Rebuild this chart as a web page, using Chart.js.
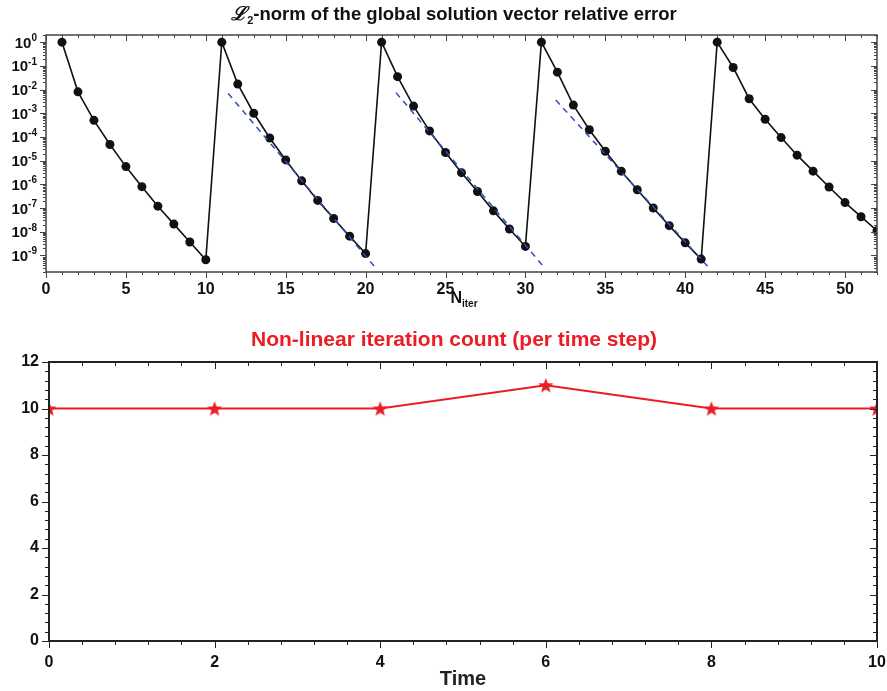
<!DOCTYPE html>
<html>
<head>
<meta charset="utf-8">
<script src="https://cdn.jsdelivr.net/npm/chart.js@4.4.1/dist/chart.umd.min.js"></script>
<style>
html, body { margin: 0; padding: 0; background: #fff; }
#topBox { position: absolute; left: 0; top: 0; width: 887px; height: 310px; }
#botBox { position: absolute; left: 0; top: 310px; width: 887px; height: 381px; }
</style>
</head>
<body>
<div id="topBox"><canvas id="errChart"></canvas></div>
<div id="botBox"><canvas id="iterChart"></canvas></div>
<script>
// ---- top panel data (residual per non-linear iteration)
var nIter = [1, 2, 3, 4, 5, 6, 7, 8, 9, 10,
  11, 12, 13, 14, 15, 16, 17, 18, 19, 20,
  21, 22, 23, 24, 25, 26, 27, 28, 29, 30,
  31, 32, 33, 34, 35, 36, 37, 38, 39, 40, 41,
  42, 43, 44, 45, 46, 47, 48, 49, 50, 51, 52];
var relErr = [1, 8e-3, 5e-4, 4.8e-5, 5.6e-6, 8e-7, 1.2e-7, 2.1e-8, 3.7e-9, 6.6e-10,
  1, 1.7e-2, 1e-3, 9e-5, 1.07e-5, 1.4e-6, 2.1e-7, 3.6e-8, 6.5e-9, 1.2e-9,
  1, 3.5e-2, 2e-3, 1.8e-4, 2.2e-5, 3.1e-6, 5e-7, 7.6e-8, 1.3e-8, 2.4e-9,
  1, 5.4e-2, 2.2e-3, 2e-4, 2.5e-5, 3.6e-6, 5.9e-7, 1e-7, 1.8e-8, 3.4e-9, 7e-10,
  1, 8.5e-2, 4.1e-3, 5.6e-4, 9.4e-5, 1.7e-5, 3.6e-6, 7.7e-7, 1.7e-7, 4.3e-8, 1.1e-8];

// dashed convergence-rate guides
var fit1X = [11.4, 20.7], fit1Y = [6.8e-3, 2.6e-10];
var fit2X = [21.9, 31.2], fit2Y = [7.4e-3, 3.0e-10];
var fit3X = [31.9, 41.4], fit3Y = [3.6e-3, 3.5e-10];

var iterTicks = [0, 5, 10, 15, 20, 25, 30, 35, 40, 45, 50];
var errTicks = [1e-9, 1e-8, 1e-7, 1e-6, 1e-5, 1e-4, 1e-3, 1e-2, 1e-1, 1];

// ---- bottom panel data
var timeVals = [0, 2, 4, 6, 8, 10];
var nlCount = [10, 10, 10, 11, 10, 10];
var timeTicks = [0, 2, 4, 6, 8, 10];
var countTicks = [0, 2, 4, 6, 8, 10, 12];

var FONT = "'Liberation Sans', Arial, sans-serif";
var RED = '#ec1c24';

function pts(xs, ys) {
  return xs.map(function (v, i) { return { x: v, y: ys[i] }; });
}
function steps(from, to, step) {
  var out = [];
  for (var v = from; v <= to + 1e-9; v += step) out.push(+v.toFixed(4));
  return out;
}
var logMinor = [];
for (var d = -10; d <= 0; d++) {
  for (var m = 2; m <= 9; m++) {
    var v = m * Math.pow(10, d);
    if (v >= 1.999e-10 && v <= 2.0001) logMinor.push(v);
  }
}

// frame + tick marks, placed with the chart's scales
var frameTicks = {
  id: 'frameTicks',
  afterDatasetsDraw: function (chart, args, o) {
    var ctx = chart.ctx, a = chart.chartArea, x = chart.scales.x, y = chart.scales.y;
    ctx.save();
    ctx.strokeStyle = o.color;
    ctx.lineWidth = 1;
    function seg(x1, y1, x2, y2) { ctx.beginPath(); ctx.moveTo(x1, y1); ctx.lineTo(x2, y2); ctx.stroke(); }
    function xt(list, len) {
      list.forEach(function (v) {
        var p = Math.round(x.getPixelForValue(v)) + 0.5;
        if (p < a.left - 1 || p > a.right + 1) return;
        seg(p, a.bottom, p, a.bottom + len);
        seg(p, a.top, p, a.top + len);
      });
    }
    function yt(list, len) {
      list.forEach(function (v) {
        var p = Math.round(y.getPixelForValue(v)) + 0.5;
        if (p < a.top - 1 || p > a.bottom + 1) return;
        seg(a.left, p, a.left - len, p);
        seg(a.right, p, a.right - len, p);
      });
    }
    xt(o.xMinor, o.minor); xt(o.xMajor, o.major);
    yt(o.yMinor, o.minor); yt(o.yMajor, o.major);
    ctx.lineWidth = o.width;
    ctx.strokeRect(a.left, a.top, a.right - a.left, a.bottom - a.top);
    ctx.restore();
  }
};

// top panel texts that need sub/superscripts
var topTexts = {
  id: 'topTexts',
  afterDraw: function (chart) {
    var ctx = chart.ctx, y = chart.scales.y;
    ctx.save();
    ctx.fillStyle = '#111';
    ctx.textBaseline = 'alphabetic';
    errTicks.forEach(function (v) {
      var py = y.getPixelForValue(v);
      var ex = String(Math.round(Math.log10(v)));
      ctx.font = 'bold 10px ' + FONT;
      var we = ctx.measureText(ex).width;
      ctx.font = 'bold 15px ' + FONT;
      var wb = ctx.measureText('10').width;
      var right = 37;
      ctx.fillText('10', right - we - wb, py + 5.5);
      ctx.font = 'bold 10px ' + FONT;
      ctx.fillText(ex, right - we, py - 1);
    });
    // title
    var cx = 454;
    ctx.font = 'italic bold 19px ' + FONT;
    var w1 = ctx.measureText('\u2112').width;
    ctx.font = 'bold 11px ' + FONT;
    var w2 = ctx.measureText('2').width;
    ctx.font = 'bold 18.5px ' + FONT;
    var rest = '-norm of the global solution vector relative error';
    var w3 = ctx.measureText(rest).width;
    var sx = cx - (w1 + w2 + w3) / 2;
    ctx.font = 'italic bold 19px ' + FONT;
    ctx.fillText('\u2112', sx, 20);
    ctx.font = 'bold 11px ' + FONT;
    ctx.fillText('2', sx + w1, 24);
    ctx.font = 'bold 18.5px ' + FONT;
    ctx.fillText(rest, sx + w1 + w2, 20);
    // x-axis title N_iter
    ctx.font = 'bold 16px ' + FONT;
    var wn = ctx.measureText('N').width;
    ctx.font = 'bold 10px ' + FONT;
    var wi = ctx.measureText('iter').width;
    var nx = 464 - (wn + wi) / 2;
    ctx.font = 'bold 16px ' + FONT;
    ctx.fillText('N', nx, 303);
    ctx.font = 'bold 10px ' + FONT;
    ctx.fillText('iter', nx + wn, 307);
    ctx.restore();
  }
};

// red heading of the bottom panel
var botTitle = {
  id: 'botTitle',
  afterDraw: function (chart, args, o) {
    var ctx = chart.ctx;
    ctx.save();
    ctx.fillStyle = RED;
    ctx.font = 'bold 21px ' + FONT;
    ctx.textAlign = 'center';
    ctx.textBaseline = 'middle';
    ctx.fillText(o.text, 454, 30);
    ctx.restore();
  }
};

var guide = {
  borderColor: '#2d4fb8', borderWidth: 1.5, borderDash: [6, 5],
  pointRadius: 0, fill: false, showLine: true
};

var errChart = new Chart(document.getElementById('errChart'), {
  type: 'scatter',
  data: {
    datasets: [
      Object.assign({ data: pts(fit1X, fit1Y) }, guide),
      Object.assign({ data: pts(fit2X, fit2Y) }, guide),
      Object.assign({ data: pts(fit3X, fit3Y) }, guide),
      {
        data: pts(nIter, relErr),
        showLine: true,
        borderColor: '#111', borderWidth: 1.6,
        pointRadius: 4.5, pointBackgroundColor: '#111', pointBorderColor: '#111',
        pointBorderWidth: 0
      }
    ]
  },
  options: {
    responsive: true, maintainAspectRatio: false, animation: false,
    devicePixelRatio: 1,
    layout: { padding: { top: 35, right: 10, left: 0, bottom: 0 } },
    plugins: {
      legend: { display: false }, title: { display: false }, tooltip: { enabled: false },
      frameTicks: {
        color: '#444', width: 1.5, major: 6, minor: 3,
        xMajor: iterTicks, xMinor: steps(0, 52, 1),
        yMajor: errTicks, yMinor: logMinor
      }
    },
    scales: {
      x: {
        type: 'linear', min: 0, max: 52,
        afterBuildTicks: function (s) { s.ticks = iterTicks.map(function (v) { return { value: v }; }); },
        afterFit: function (s) { s.height = 38; s.paddingLeft = 0; s.paddingRight = 0; },
        grid: { display: false }, border: { display: false },
        ticks: { padding: 0, color: '#111', font: { family: FONT, size: 16, weight: 'bold' }, maxRotation: 0 }
      },
      y: {
        type: 'logarithmic', min: 2e-10, max: 2,
        afterBuildTicks: function (s) { s.ticks = errTicks.map(function (v) { return { value: v }; }); },
        afterFit: function (s) { s.width = 46; },
        grid: { display: false }, border: { display: false },
        ticks: { display: false }
      }
    }
  },
  plugins: [frameTicks, topTexts]
});

// filled five-point star used as marker
function makeStar(size, color) {
  var c = document.createElement('canvas');
  c.width = size; c.height = size;
  var g = c.getContext('2d');
  var r = size / 2, ri = r * 0.42;
  g.fillStyle = color;
  g.beginPath();
  for (var i = 0; i < 10; i++) {
    var ang = -Math.PI / 2 + i * Math.PI / 5;
    var rr = i % 2 === 0 ? r : ri;
    g.lineTo(r + rr * Math.cos(ang), r + rr * Math.sin(ang) + 0.8);
  }
  g.closePath();
  g.fill();
  return c;
}
var starImg = makeStar(16, RED);

var iterChart = new Chart(document.getElementById('iterChart'), {
  type: 'line',
  data: {
    datasets: [{
      data: pts(timeVals, nlCount),
      borderColor: RED, borderWidth: 1.8,
      pointStyle: starImg, pointRadius: 8,
      tension: 0
    }]
  },
  options: {
    responsive: true, maintainAspectRatio: false, animation: false,
    devicePixelRatio: 1,
    layout: { padding: { top: 52, right: 10, left: 0, bottom: 0 } },
    plugins: {
      legend: { display: false }, tooltip: { enabled: false }, title: { display: false },
      botTitle: { text: 'Non-linear iteration count (per time step)' },
      frameTicks: {
        color: '#222', width: 2, major: 7, minor: 4,
        xMajor: timeTicks, xMinor: steps(0, 10, 0.4),
        yMajor: countTicks, yMinor: steps(0, 12, 0.4)
      }
    },
    scales: {
      x: {
        type: 'linear', min: 0, max: 10,
        afterBuildTicks: function (s) { s.ticks = timeTicks.map(function (v) { return { value: v }; }); },
        afterFit: function (s) { s.height = 50; s.paddingLeft = 0; s.paddingRight = 0; },
        grid: { display: false }, border: { display: false },
        ticks: { padding: 4, color: '#111', font: { family: FONT, size: 16, weight: 'bold' }, maxRotation: 0 },
        title: { display: true, text: 'Time', color: '#222', font: { family: FONT, size: 20, weight: 'bold' }, padding: { top: 0, bottom: 0 } }
      },
      y: {
        type: 'linear', min: 0, max: 12,
        afterBuildTicks: function (s) { s.ticks = countTicks.map(function (v) { return { value: v }; }); },
        afterFit: function (s) { s.width = 49; },
        grid: { display: false }, border: { display: false },
        ticks: { padding: 2, color: '#111', font: { family: FONT, size: 16, weight: 'bold' } }
      }
    }
  },
  plugins: [frameTicks, botTitle]
});
</script>
</body>
</html>
